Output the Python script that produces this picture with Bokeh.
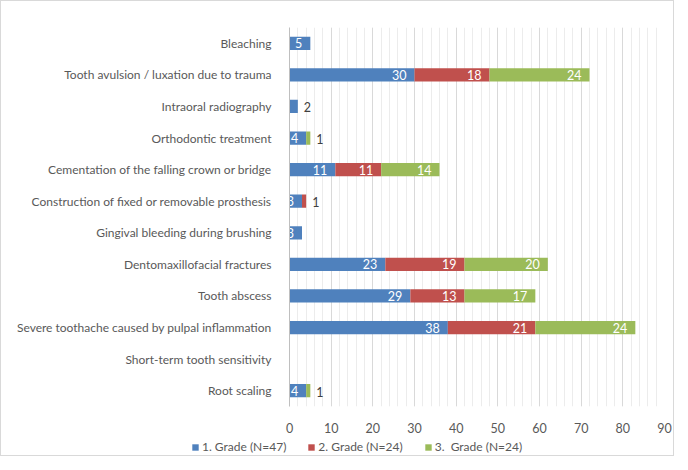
from bokeh.plotting import figure
from bokeh.layouts import column
from bokeh.models import (ColumnDataSource, FactorRange, Legend, LegendItem,
                          SingleIntervalTicker, Range1d)
from bokeh.core.properties import value
from bokeh.embed import file_html
from bokeh.resources import INLINE

categories = [
    "Bleaching",
    "Tooth avulsion / luxation due to trauma",
    "Intraoral radiography",
    "Orthodontic treatment",
    "Cementation of the falling crown or bridge",
    "Construction of fixed or removable prosthesis",
    "Gingival bleeding during brushing",
    "Dentomaxillofacial fractures",
    "Tooth abscess",
    "Severe toothache caused by pulpal inflammation",
    "Short-term tooth sensitivity",
    "Root scaling",
]
grade1 = [5, 30, 2, 4, 11, 3, 3, 23, 29, 38, 0, 4]
grade2 = [0, 18, 0, 0, 11, 1, 0, 19, 13, 21, 0, 0]
grade3 = [0, 24, 0, 1, 14, 0, 0, 20, 17, 24, 0, 1]
series_names = ["1. Grade (N=47)", "2. Grade (N=24)", "3.  Grade (N=24)"]
colors = ["#4F81BD", "#C0504D", "#9BBB59"]
x_max = 90

FONT = "Lato"
TEXT_COLOR = "#595959"

source = ColumnDataSource(dict(cat=categories, g1=grade1, g2=grade2, g3=grade3))

p = figure(width=672, height=434, output_backend="svg", toolbar_location=None,
           y_range=FactorRange(factors=list(reversed(categories)), range_padding=0),
           x_range=Range1d(0, x_max),
           min_border_left=288, min_border_right=9, min_border_top=26,
           min_border_bottom=24)
p.outline_line_color = None

p.hbar_stack(["g1", "g2", "g3"], y="cat", height=0.42, color=colors,
             line_color=None, source=source)

# labels: inside (white) for larger segments, outside (dark) for small ones
in_x, in_y, in_t = [], [], []
out_x, out_y, out_t = [], [], []
for i, c in enumerate(categories):
    total = grade1[i] + grade2[i] + grade3[i]
    cum = 0
    for v in (grade1[i], grade2[i], grade3[i]):
        cum += v
        if v <= 0:
            continue
        if v >= 3:
            in_x.append(cum); in_y.append(c); in_t.append(str(v))
        else:
            out_x.append(total); out_y.append(c); out_t.append(str(v))

p.text(x=in_x, y=in_y, text=in_t, text_align="right", text_baseline="middle",
       x_offset=-8, text_color="white", text_font=value(FONT), text_font_size="12.5px")
p.text(x=out_x, y=out_y, text=out_t, text_align="left", text_baseline="middle",
       x_offset=6, y_offset=1, text_color="#404040", text_font=value(FONT),
       text_font_size="12.5px")

# axes
p.xaxis.ticker = SingleIntervalTicker(interval=10, num_minor_ticks=5)
p.xaxis.axis_line_color = None
p.xaxis.major_tick_line_color = None
p.xaxis.minor_tick_line_color = None
p.xaxis.major_label_standoff = 10
p.xaxis.major_label_text_font = FONT
p.xaxis.major_label_text_font_size = "12.5px"
p.xaxis.major_label_text_color = TEXT_COLOR

p.yaxis.axis_line_color = "#bfbfbf"
p.yaxis.major_tick_line_color = None
p.yaxis.minor_tick_line_color = None
p.yaxis.major_label_standoff = 12
p.yaxis.major_label_text_font = FONT
p.yaxis.major_label_text_font_size = "12px"
p.yaxis.major_label_text_color = TEXT_COLOR

p.ygrid.grid_line_color = None
p.xgrid.grid_line_color = "#d9d9d9"
p.xgrid.minor_grid_line_color = "#ececec"

# legend strip (its swatches come from bars kept outside the visible range)
lg = figure(width=672, height=20, output_backend="svg", toolbar_location=None,
            y_range=FactorRange(factors=categories), x_range=Range1d(-20, -10),
            x_axis_location=None, y_axis_location=None,
            min_border_left=0, min_border_right=0, min_border_top=0, min_border_bottom=0)
lg.frame_align = False
lg.outline_line_color = None
lg.grid.visible = False
leg_r = lg.hbar_stack(["g1", "g2", "g3"], y="cat", height=0.42, color=colors,
                      line_color=None, source=source)
legend = Legend(items=[LegendItem(label=n, renderers=[r]) for n, r in zip(series_names, leg_r)],
                orientation="horizontal", location=(190, 1),
                glyph_width=8, glyph_height=8, label_standoff=3, spacing=21,
                label_text_font=FONT, label_text_font_size="12px",
                label_text_color=TEXT_COLOR, border_line_color=None,
                background_fill_alpha=0, padding=0, margin=0)
lg.add_layout(legend, "center")

layout = column(p, lg, spacing=0)
layout.styles = {"border": "1px solid #d9d9d9"}

open("out.html", "w").write(file_html(layout, INLINE))
